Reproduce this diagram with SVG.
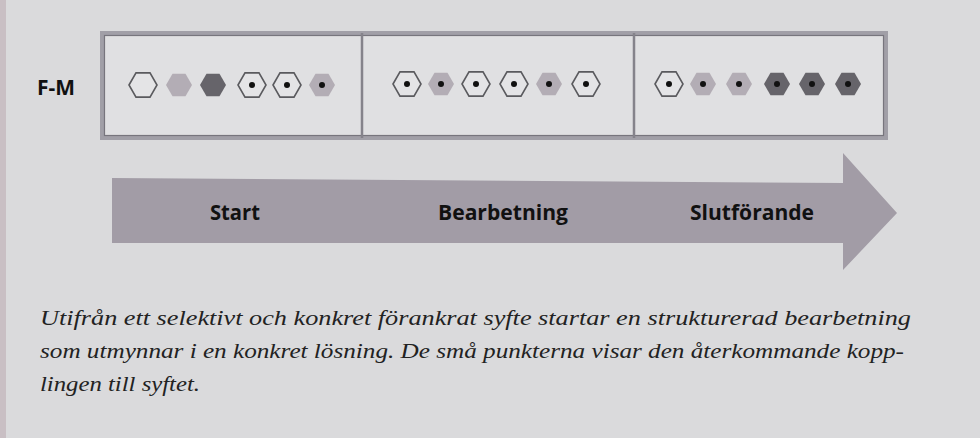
<svg xmlns="http://www.w3.org/2000/svg" width="980" height="438" viewBox="0 0 980 438">
<defs>
<style>
.frame{fill:none;stroke:#a19fa7;stroke-width:4}
.inner{fill:none;stroke:#77757d;stroke-width:1.2}
.div{stroke:#85838b;stroke-width:2.5}
.empty{fill:#e4e4e6;stroke:#5a5a5e;stroke-width:1.6}
.light{fill:#b3adb5;stroke:none}
.dark{fill:#66646a;stroke:none}
.dot{fill:#111}
.lbl{font-family:"Open Sans","Liberation Sans",sans-serif;font-weight:bold;font-size:21px;fill:#111}
.cap{font-family:"Liberation Serif",serif;font-style:italic;font-size:22px;fill:#222}
</style>
<polygon id="hex" points="-14,0 -7,-12.1 7,-12.1 14,0 7,12.1 -7,12.1"/>
<polygon id="hexs" points="-13,0 -6.5,-11.3 6.5,-11.3 13,0 6.5,11.3 -6.5,11.3"/>
<circle id="d" r="3"/>
</defs>
<rect width="980" height="438" fill="#dadadc"/>
<rect x="0" y="0" width="6" height="438" fill="#c9bfc4"/>
<g id="fm-label"><text class="lbl" x="37" y="95" textLength="38" lengthAdjust="spacingAndGlyphs">F-M</text></g>
<g id="panels">
<rect x="102" y="33" width="784" height="105" fill="#e0e0e2"/>
<rect class="frame" x="102" y="33" width="784" height="105"/>
<rect class="inner" x="104.5" y="35.5" width="779" height="100"/>
<line class="div" x1="362" y1="33" x2="362" y2="138"/>
<line class="div" x1="634" y1="33" x2="634" y2="138"/>
</g>
<g id="panel-start">
<use href="#hex" class="empty" x="143" y="85"/>
<use href="#hexs" class="light" x="179" y="85"/>
<use href="#hexs" class="dark" x="213" y="85"/>
<use href="#hex" class="empty" x="252" y="85"/><use href="#d" class="dot" x="252" y="85"/>
<use href="#hex" class="empty" x="287" y="85"/><use href="#d" class="dot" x="287" y="85"/>
<use href="#hexs" class="light" x="322" y="85"/><use href="#d" class="dot" x="322" y="85"/>
</g>
<g id="panel-bearbetning">
<use href="#hex" class="empty" x="407" y="84"/><use href="#d" class="dot" x="407" y="84"/>
<use href="#hexs" class="light" x="441" y="84"/><use href="#d" class="dot" x="441" y="84"/>
<use href="#hex" class="empty" x="476" y="84"/><use href="#d" class="dot" x="476" y="84"/>
<use href="#hex" class="empty" x="514" y="84"/><use href="#d" class="dot" x="514" y="84"/>
<use href="#hexs" class="light" x="549" y="84"/><use href="#d" class="dot" x="549" y="84"/>
<use href="#hex" class="empty" x="586" y="84"/><use href="#d" class="dot" x="586" y="84"/>
</g>
<g id="panel-slutforande">
<use href="#hex" class="empty" x="669" y="84"/><use href="#d" class="dot" x="669" y="84"/>
<use href="#hexs" class="light" x="703" y="84"/><use href="#d" class="dot" x="703" y="84"/>
<use href="#hexs" class="light" x="739" y="84"/><use href="#d" class="dot" x="739" y="84"/>
<use href="#hexs" class="dark" x="777" y="84"/><use href="#d" class="dot" x="777" y="84"/>
<use href="#hexs" class="dark" x="812" y="84"/><use href="#d" class="dot" x="812" y="84"/>
<use href="#hexs" class="dark" x="848" y="84"/><use href="#d" class="dot" x="848" y="84"/>
</g>
<g id="arrow">
<polygon points="112,178 843,183 843,153 897,213 843,270 843,243 112,243" fill="#a29ca6"/>
<text class="lbl" x="210" y="220" textLength="50" lengthAdjust="spacingAndGlyphs">Start</text>
<text class="lbl" x="438" y="220" textLength="130" lengthAdjust="spacingAndGlyphs">Bearbetning</text>
<text class="lbl" x="690" y="220" textLength="124" lengthAdjust="spacingAndGlyphs">Slutförande</text>
</g>
<g id="caption">
<text class="cap" x="40" y="325" textLength="871" lengthAdjust="spacingAndGlyphs">Utifrån ett selektivt och konkret förankrat syfte startar en strukturerad bearbetning</text>
<text class="cap" x="40" y="358" textLength="864" lengthAdjust="spacingAndGlyphs">som utmynnar i en konkret lösning. De små punkterna visar den återkommande kopp-</text>
<text class="cap" x="40" y="391" textLength="160" lengthAdjust="spacingAndGlyphs">lingen till syftet.</text>
</g>
</svg>
